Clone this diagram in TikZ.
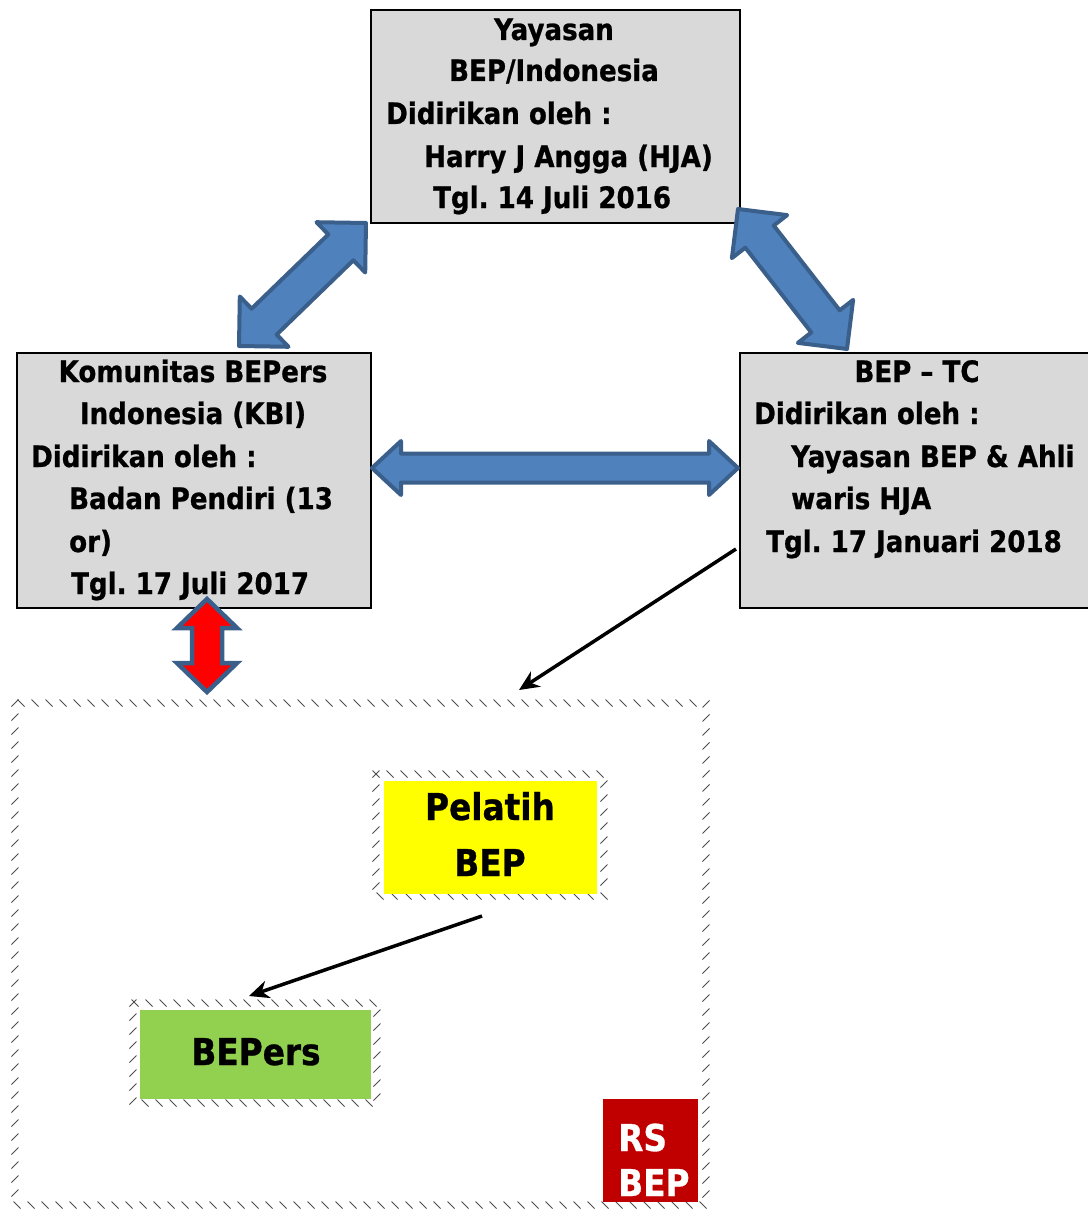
\documentclass[tikz,border=0pt]{standalone}
\usepackage{fontspec}
\setmainfont{DejaVu Sans}[FakeStretch=0.885, BoldFeatures={FakeBold=0.8}]
\usetikzlibrary{calc,decorations.markings,arrows.meta}
\definecolor{boxgray}{HTML}{D9D9D9}
\definecolor{arrowfill}{HTML}{4F81BD}
\definecolor{arrowline}{HTML}{3A5F8B}
\definecolor{pelatihyellow}{HTML}{FFFF00}
\definecolor{bepersgreen}{HTML}{92D050}
\definecolor{rsred}{HTML}{C00000}
\newcommand{\blockarr}[6]{%
  \draw[#1] (#2) -- ($(#2)!#6!(#3)!#5!90:(#3)$) -- ($(#2)!#6!(#3)!#4!90:(#3)$)
    -- ($(#3)!#6!(#2)!#4!-90:(#2)$) -- ($(#3)!#6!(#2)!#5!-90:(#2)$) -- (#3)
    -- ($(#3)!#6!(#2)!#5!90:(#2)$) -- ($(#3)!#6!(#2)!#4!90:(#2)$)
    -- ($(#2)!#6!(#3)!#4!-90:(#3)$) -- ($(#2)!#6!(#3)!#5!-90:(#3)$) -- cycle;}
\frenchspacing
\begin{document}
\begin{tikzpicture}[x=1pt,y=-1pt,
  box/.style={draw=black, line width=2pt, fill=boxgray, anchor=north west, inner sep=0},
  txt/.style={font=\fontsize{29.5}{34}\selectfont\bfseries, inner sep=0},
  bigtxt/.style={font=\fontsize{37}{42}\selectfont\bfseries, inner sep=0},
  bluearrow/.style={fill=arrowfill, draw=arrowline, line width=4pt, line join=round},
  redarrow/.style={fill=red, draw=arrowline, line width=4.5pt, line join=miter},
  thinarrow/.style={draw=black, line width=3.5pt, -{Stealth[length=20pt,width=18pt]}},
  hatch/.style={decorate, decoration={markings,
      mark=between positions 0 and 1 step 14pt with {
        \draw[line width=1pt, black!70] (-3.5,-3.5) -- (3.5,3.5);}}}
]
\useasboundingbox (0,0) rectangle (1087,1212);

% main boxes
\node[box, minimum width=369pt, minimum height=213pt] (yayasan) at (370,9) {};
\node[box, minimum width=354pt, minimum height=255pt] (kbi) at (16,352) {};
\node[box, minimum width=349pt, minimum height=255pt] (bectc) at (739,352) {};

% texts top box
\node[txt, anchor=base] (y1) at (554,40) {Yayasan};
\node[txt, anchor=base] (y2) at (554,81) {BEP/Indonesia};
\node[txt, anchor=base west] (y3) at (386,124) {Didirikan oleh :};
\node[txt, anchor=base west] (y4) at (424,167) {Harry J Angga (HJA)};
\node[txt, anchor=base west] (y5) at (433,208) {Tgl. 14 Juli 2016};

% texts left box
\node[txt, anchor=base] (k1) at (193,382) {Komunitas BEPers};
\node[txt, anchor=base] (k2) at (193,424) {Indonesia (KBI)};
\node[txt, anchor=base west] (k3) at (31,467) {Didirikan oleh :};
\node[txt, anchor=base west] (k4) at (69,509) {Badan Pendiri (13};
\node[txt, anchor=base west] (k5) at (69,552) {or)};
\node[txt, anchor=base west] (k6) at (71,594) {Tgl. 17 Juli 2017};

% texts right box
\node[txt, anchor=base] (b1) at (917,382) {BEP – TC};
\node[txt, anchor=base west] (b2) at (754,424) {Didirikan oleh :};
\node[txt, anchor=base west] (b3) at (791,467) {Yayasan BEP \& Ahli};
\node[txt, anchor=base west] (b4) at (791,509) {waris HJA};
\node[txt, anchor=base west] (b5) at (766,552) {Tgl. 17 Januari 2018};

% region and inner boxes
\coordinate (regNW) at (15,703);
\coordinate (regSE) at (706,1205);
\path[hatch] (regNW) rectangle (regSE);

\path[hatch] (376,774) rectangle (604,896);
\node[anchor=north west, fill=pelatihyellow, minimum width=213pt, minimum height=113pt, inner sep=0] (pelatih) at (384,781) {};
\node[bigtxt, anchor=base] (p1) at (490,820) {Pelatih};
\node[bigtxt, anchor=base] (p2) at (490,876) {BEP};

\path[hatch] (133,1003) rectangle (377,1103);
\node[anchor=north west, fill=bepersgreen, minimum width=231pt, minimum height=89pt, inner sep=0] (bepers) at (140,1010) {};
\node[bigtxt, anchor=base] (g1) at (256,1065) {BEPers};

\node[anchor=north west, fill=rsred, minimum width=95pt, minimum height=103pt, inner sep=0] (rs) at (603,1099) {};
\node[bigtxt, anchor=base west, text=white] (r1) at (618,1151) {RS};
\node[bigtxt, anchor=base west, text=white] (r2) at (618,1196) {BEP};

% block arrows
\coordinate (a1s) at (239,346);
\coordinate (a1e) at (366,223);
\coordinate (a2s) at (738,209);
\coordinate (a2e) at (847,349);
\coordinate (a3s) at (372,468);
\coordinate (a3e) at (738,468);
\coordinate (a4s) at (207,599);
\coordinate (a4e) at (207,692);
\blockarr{bluearrow}{a1s}{a1e}{18pt}{35pt}{35pt}
\blockarr{bluearrow}{a2s}{a2e}{18pt}{35pt}{35pt}
\blockarr{bluearrow}{a3s}{a3e}{14.5pt}{27pt}{29pt}
\blockarr{redarrow}{a4s}{a4e}{15pt}{30pt}{29pt}

% thin arrows
\coordinate (t1s) at (736,549);
\coordinate (t1e) at (519,690);
\coordinate (t2s) at (482,916);
\coordinate (t2e) at (249,996);
\draw[thinarrow] (t1s) -- (t1e);
\draw[thinarrow] (t2s) -- (t2e);
\end{tikzpicture}
\end{document}
